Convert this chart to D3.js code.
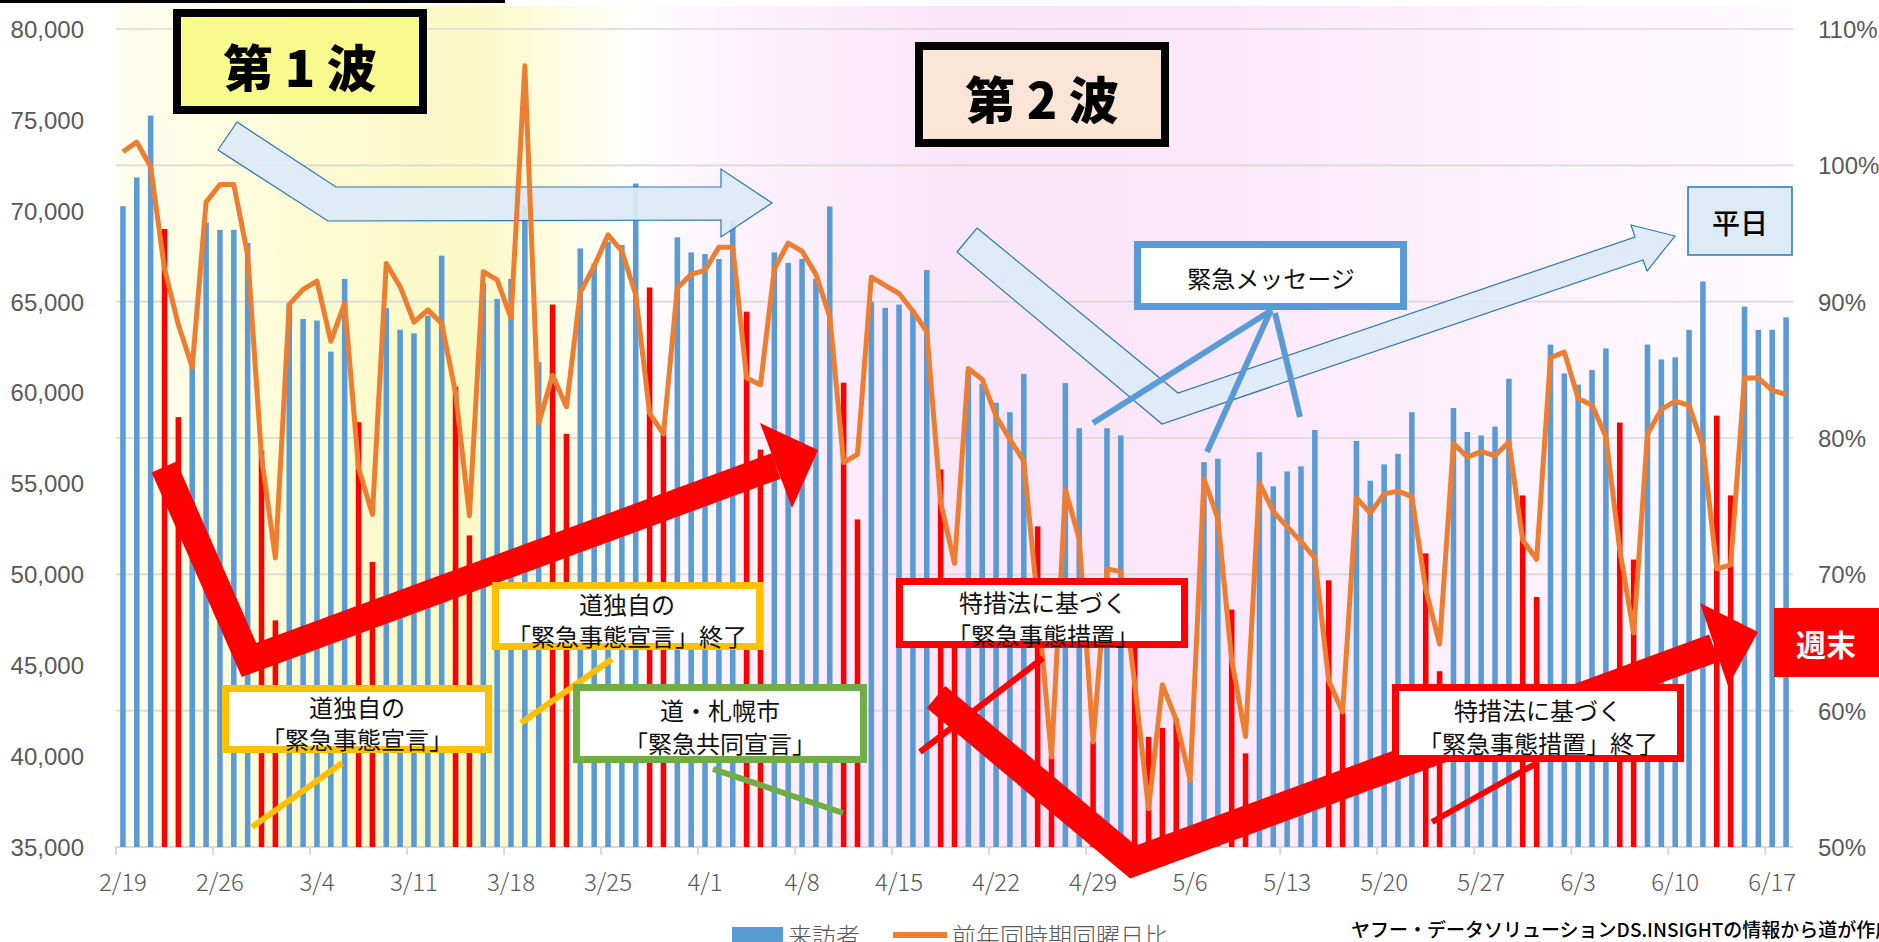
<!DOCTYPE html>
<html>
<head>
<meta charset="utf-8">
<script src="https://cdn.jsdelivr.net/npm/d3@7/dist/d3.min.js"></script>
<style>
    body { margin: 0; background: #fff; }
    svg { display: block; font-family: "Noto Sans CJK JP", "Noto Sans", sans-serif; }
</style>
</head>
<body>
<div id="chart"></div>
<script>
const firstDay = new Date(2020, 1, 19);
const lastDay = new Date(2020, 5, 19);
const holidays = ["4/29", "5/4", "5/5"];

// 来訪者 (2/19 - 6/18)
const visitors = [
    70250, 71830, 75240, 69000, 58650, 61500, 69350, 68950, 68950, 68230,
    56800, 47470, 64900, 64050, 63960, 62250, 66250, 58370, 50680, 64650,
    63450, 63260, 64230, 67530, 60330, 52140, 66000, 65150, 66250, 70300,
    61670, 64840, 57730, 67930, 67100, 68300, 68120, 71500, 65780, 58000,
    68540, 67710, 67620, 67350, 69500, 64450, 56860, 67710, 67130, 67350,
    66250, 70240, 60540, 53020, 65000, 64660, 64840, 64550, 66740, 55770,
    48500, 61200, 60480, 59440, 58920, 61030, 52640, 40000, 60520, 58040,
    40800, 58040, 57640, 48000, 41060, 41550, 42050, 38700, 56170, 56360,
    48060, 40150, 56720, 54840, 55660, 55940, 57940, 49670, 42400, 57340,
    55150, 56050, 56630, 58920, 51150, 44670, 59150, 57830, 57640, 58130,
    60760, 54340, 48750, 62640, 61050, 60440, 61240, 62430, 58350, 50810,
    62640, 61820, 61940, 63450, 66110, 58730, 54340, 64730, 63450, 63450,
    64140
];

// 前年同時期同曜日比 (%)
const ratio = [
    101.0, 101.7, 99.9, 92.4, 88.3, 85.2, 97.3, 98.6, 98.6, 93.4,
    78.6, 71.2, 89.8, 90.9, 91.5, 87.1, 89.9, 77.8, 74.4, 92.8,
    91.1, 88.5, 89.4, 88.4, 83.3, 74.3, 92.2, 91.6, 88.8, 107.3,
    81.1, 84.6, 82.3, 90.7, 92.6, 94.9, 93.7, 90.5, 81.8, 80.3,
    91.0, 92.0, 92.3, 94.0, 94.0, 84.4, 83.9, 92.4, 94.3, 93.7,
    92.0, 88.9, 78.2, 78.8, 91.8, 91.2, 90.6, 89.3, 87.8, 75.3,
    70.8, 85.1, 84.3, 81.6, 79.9, 78.3, 67.9, 56.6, 76.2, 72.6,
    57.7, 70.4, 70.2, 62.0, 52.8, 61.9, 59.3, 54.9, 77.0, 74.1,
    63.7, 58.1, 76.7, 74.6, 73.5, 72.4, 71.2, 62.2, 59.9, 75.6,
    74.5, 75.9, 76.1, 75.7, 68.9, 64.9, 79.6, 78.6, 79.0, 78.7,
    79.7, 72.5, 71.1, 85.9, 86.3, 82.9, 82.4, 80.1, 71.8, 65.7,
    80.3, 82.1, 82.7, 82.4, 79.4, 70.4, 70.7, 84.4, 84.4, 83.5,
    83.2
];

const leftTicks = [35000, 40000, 45000, 50000, 55000, 60000, 65000, 70000, 75000, 80000];
const rightTicks = [50, 60, 70, 80, 90, 100, 110];
const seriesNames = ["来訪者", "前年同時期同曜日比"];
const sourceNote = "ヤフー・データソリューションDS.INSIGHTの情報から道が作成";

const notes = [
    {x: 222, y: 685, w: 270, h: 68, color: "#FFC000", lines: ["道独自の", "「緊急事態宣言」"], ty: [706, 738], tx: 357,
        leader: [[342, 763], [252, 827]]},
    {x: 492, y: 582, w: 271, h: 68, color: "#FFC000", lines: ["道独自の", "「緊急事態宣言」終了"], ty: [603, 635], tx: 627,
        leader: [[612, 659], [521, 723]]},
    {x: 573, y: 684, w: 294, h: 79, color: "#70AD47", lines: ["道・札幌市", "「緊急共同宣言」"], ty: [709, 742], tx: 720,
        leader: [[713, 769], [843, 813]]},
    {x: 896, y: 578, w: 292, h: 70, color: "#FF0000", lines: ["特措法に基づく", "「緊急事態措置」"], ty: [601, 634], tx: 1043,
        leader: [[1043, 658], [920, 752]]},
    {x: 1392, y: 684, w: 292, h: 78, color: "#FF0000", lines: ["特措法に基づく", "「緊急事態措置」終了"], ty: [709, 742], tx: 1538,
        leader: [[1537, 763], [1432, 822]]},
    {x: 1134, y: 241, w: 273, h: 69, color: "#5B9BD5", lines: ["緊急メッセージ"], ty: [277], tx: 1271,
        leader: null}
];

class VisitorChart {
    constructor({selector, width = 1879, height = 942}) {
        this.selector = selector;
        this.width = width;
        this.height = height;
        this.left = 116;
        this.right = 1793;
        this.top = 29;
        this.bottom = 847;
        this.blue = "#5B9BD5";
        this.red = "#FF0000";
        this.orange = "#ED7D31";
        this.axisColor = "#595959";
        let fmt = d3.timeFormat("%-m/%-d");
        this.days = d3.timeDay.range(firstDay, lastDay).map(d => ({
            label: fmt(d),
            weekend: d.getDay() === 0 || d.getDay() === 6 || holidays.includes(fmt(d))
        }));
        this.days.forEach((d, i) => {
            d.visitors = visitors[i];
            d.ratio = ratio[i];
        });
    }
    drawBackground() {
        let grad = this.svg.append("defs")
            .append("linearGradient")
            .attr("id", "bg")
            .attr("x1", 0).attr("x2", 1).attr("y1", 0).attr("y2", 0);
        let stops = [
            [0, "#fffef0"], [0.11, "#fdfbd4"], [0.21, "#fbf9c4"], [0.27, "#fdfce6"],
            [0.31, "#ffffff"], [0.36, "#fdf3fc"], [0.5, "#fbe5f9"], [0.65, "#fce7fa"],
            [0.8, "#fdf0fc"], [1, "#fffbff"]
        ];
        grad.selectAll("stop")
            .data(stops)
            .join("stop")
            .attr("offset", d => d[0])
            .attr("stop-color", d => d[1]);
        this.svg.append("rect")
            .attr("x", this.left)
            .attr("y", 6)
            .attr("width", this.right - this.left)
            .attr("height", this.bottom - 6)
            .attr("fill", "url(#bg)");
        this.svg.append("rect")
            .attr("x", 0).attr("y", 0)
            .attr("width", 505).attr("height", 3)
            .attr("fill", "#000");
    }
    drawAxes() {
        let self = this;
        this.svg.append("g")
            .attr("class", "grid")
            .selectAll("line")
            .data(rightTicks)
            .join("line")
            .attr("x1", this.left)
            .attr("x2", this.right)
            .attr("y1", d => self.yRight(d))
            .attr("y2", d => self.yRight(d))
            .attr("stroke", "#d9d9d9")
            .attr("stroke-width", 1.6);

        let leftAxis = this.svg.append("g")
            .attr("transform", `translate(${this.left - 32},0)`)
            .call(d3.axisLeft(this.yLeft).tickValues(leftTicks).tickFormat(d3.format(",")).tickSize(0));
        let rightAxis = this.svg.append("g")
            .attr("transform", `translate(${this.right + 25},0)`)
            .call(d3.axisRight(this.yRight).tickValues(rightTicks).tickFormat(d => d + "%").tickSize(0));
        [leftAxis, rightAxis].forEach(g => {
            g.select(".domain").remove();
            g.selectAll("text")
                .attr("fill", self.axisColor)
                .style("font-size", "24px")
                .style("font-weight", 300)
                .attr("x", null)
                .attr("dy", "0.35em");
        });

        let weekly = this.days.filter((d, i) => i % 7 === 0);
        let xAxis = this.svg.append("g").attr("class", "x-axis");
        xAxis.append("line")
            .attr("x1", this.left)
            .attr("x2", this.right)
            .attr("y1", this.bottom)
            .attr("y2", this.bottom)
            .attr("stroke", "#d9d9d9")
            .attr("stroke-width", 2);
        xAxis.selectAll("line.tick")
            .data(weekly)
            .join("line")
            .attr("class", "tick")
            .attr("x1", d => self.cx(d.label) - self.x.step() / 2)
            .attr("x2", d => self.cx(d.label) - self.x.step() / 2)
            .attr("y1", this.bottom)
            .attr("y2", this.bottom + 8)
            .attr("stroke", "#d9d9d9")
            .attr("stroke-width", 2);
        xAxis.selectAll("text")
            .data(weekly)
            .join("text")
            .attr("x", d => self.cx(d.label))
            .attr("y", 880)
            .style("text-anchor", "middle")
            .style("dominant-baseline", "central")
            .style("font-size", "24px")
            .style("font-weight", 300)
            .attr("fill", this.axisColor)
            .text(d => d.label);
    }
    drawBars() {
        let self = this;
        this.svg.append("g")
            .attr("class", "bars")
            .selectAll("rect")
            .data(this.days)
            .join("rect")
            .attr("x", d => self.x(d.label))
            .attr("width", this.x.bandwidth())
            .attr("y", d => self.yLeft(d.visitors))
            .attr("height", d => self.bottom - self.yLeft(d.visitors))
            .attr("fill", d => d.weekend ? self.red : self.blue);
    }
    drawLine() {
        let self = this;
        let line = d3.line()
            .x(d => self.cx(d.label))
            .y(d => self.yRight(d.ratio));
        this.svg.append("path")
            .datum(this.days)
            .attr("fill", "none")
            .attr("stroke", this.orange)
            .attr("stroke-width", 5)
            .attr("stroke-linejoin", "round")
            .attr("d", line);
    }
    drawPaleArrows() {
        let arrows = [
            [[237, 122], [336, 187], [721, 187], [721, 169], [772, 203], [721, 237], [721, 220], [328, 221], [218, 150]],
            [[977, 228], [1178, 393], [1635, 237], [1631, 225], [1675, 236], [1647, 271], [1643, 260], [1162, 424], [957, 252]]
        ];
        this.svg.append("g")
            .selectAll("polygon")
            .data(arrows)
            .join("polygon")
            .attr("points", d => d.map(p => p.join(",")).join(" "))
            .attr("fill", "#DDEBF7")
            .attr("fill-opacity", 0.93)
            .attr("stroke", "#2E75B6")
            .attr("stroke-width", 1.2);
    }
    drawRedArrows() {
        let arrows = [
            {shaft: [[164, 467], [249, 660], [776, 466]], head: [[760, 423], [818, 450], [792, 508]], w: 27},
            {shaft: [[936, 697], [1133, 862], [1714, 648]], head: [[1700, 603], [1758, 632], [1728, 686]], w: 29}
        ];
        let g = this.svg.append("g").attr("class", "red-arrows");
        arrows.forEach(a => {
            g.append("path")
                .attr("d", d3.line()(a.shaft))
                .attr("fill", "none")
                .attr("stroke", "#FF0000")
                .attr("stroke-width", a.w)
                .attr("stroke-linejoin", "miter");
            g.append("polygon")
                .attr("points", a.head.map(p => p.join(",")).join(" "))
                .attr("fill", "#FF0000");
        });
    }
    drawNotes() {
        let g = this.svg.append("g").attr("class", "notes");
        // 緊急メッセージ leaders
        [[[1272, 310], [1093, 423]], [[1270, 312], [1207, 452]], [[1275, 313], [1300, 417]]].forEach(l => {
            g.append("path")
                .attr("d", d3.line()(l))
                .attr("stroke", this.blue)
                .attr("stroke-width", 6);
        });
        notes.forEach(n => {
            if (n.leader) {
                g.append("path")
                    .attr("d", d3.line()(n.leader))
                    .attr("stroke", n.color)
                    .attr("stroke-width", 6);
            }
            g.append("rect")
                .attr("x", n.x + 3.5)
                .attr("y", n.y + 3.5)
                .attr("width", n.w - 7)
                .attr("height", n.h - 7)
                .attr("fill", "#fff")
                .attr("stroke", n.color)
                .attr("stroke-width", 7);
            n.lines.forEach((t, i) => {
                g.append("text")
                    .attr("x", n.tx)
                    .attr("y", n.ty[i])
                    .style("text-anchor", "middle")
                    .style("dominant-baseline", "central")
                    .style("font-size", "24px")
                    .attr("fill", "#111")
                    .text(t);
            });
        });

        let waves = [
            {x: 173, y: 9, w: 254, h: 105, fill: "#F8FA8E", text: "第 1 波", ty: 65},
            {x: 915, y: 42, w: 254, h: 105, fill: "#FBE5D6", text: "第 2 波", ty: 97}
        ];
        waves.forEach(w => {
            g.append("rect")
                .attr("x", w.x + 4)
                .attr("y", w.y + 4)
                .attr("width", w.w - 8)
                .attr("height", w.h - 8)
                .attr("fill", w.fill)
                .attr("stroke", "#000")
                .attr("stroke-width", 8);
            g.append("text")
                .attr("x", w.x + w.w / 2)
                .attr("y", w.ty)
                .style("text-anchor", "middle")
                .style("dominant-baseline", "central")
                .style("font-size", "50px")
                .style("font-weight", 900)
                .attr("fill", "#000")
                .text(w.text);
        });

        g.append("rect")
            .attr("x", 1688).attr("y", 187)
            .attr("width", 104).attr("height", 68)
            .attr("fill", "#DDEBF7")
            .attr("stroke", "#2E75B6")
            .attr("stroke-width", 1.5);
        g.append("text")
            .attr("x", 1740).attr("y", 222)
            .style("text-anchor", "middle")
            .style("dominant-baseline", "central")
            .style("font-size", "28px")
            .style("font-weight", 500)
            .attr("fill", "#000")
            .text("平日");

        g.append("rect")
            .attr("x", 1774).attr("y", 608)
            .attr("width", 105).attr("height", 69)
            .attr("fill", "#FF0000");
        g.append("text")
            .attr("x", 1826).attr("y", 643)
            .style("text-anchor", "middle")
            .style("dominant-baseline", "central")
            .style("font-size", "30px")
            .style("font-weight", 700)
            .attr("fill", "#fff")
            .text("週末");
    }
    drawLegend() {
        let g = this.svg.append("g").attr("class", "legend");
        g.append("rect")
            .attr("x", 732).attr("y", 927)
            .attr("width", 51).attr("height", 20)
            .attr("fill", this.blue);
        g.append("text")
            .attr("x", 788).attr("y", 934)
            .style("dominant-baseline", "central")
            .style("font-size", "24px")
            .style("font-weight", 300)
            .attr("fill", this.axisColor)
            .text(seriesNames[0]);
        g.append("line")
            .attr("x1", 893).attr("x2", 947)
            .attr("y1", 935).attr("y2", 935)
            .attr("stroke", this.orange)
            .attr("stroke-width", 6);
        g.append("text")
            .attr("x", 952).attr("y", 934)
            .style("dominant-baseline", "central")
            .style("font-size", "24px")
            .style("font-weight", 300)
            .attr("fill", this.axisColor)
            .text(seriesNames[1]);
        g.append("text")
            .attr("x", 1351).attr("y", 928)
            .style("dominant-baseline", "central")
            .style("font-size", "19px")
            .style("font-weight", 500)
            .attr("fill", "#000")
            .text(sourceNote);
    }
    draw() {
        this.svg = d3.select(this.selector)
            .append("svg")
            .attr("width", this.width)
            .attr("height", this.height);
        this.x = d3.scaleBand()
            .domain(this.days.map(d => d.label))
            .range([this.left, this.right])
            .paddingInner(0.6)
            .paddingOuter(0.3);
        this.cx = label => this.x(label) + this.x.bandwidth() / 2;
        this.yLeft = d3.scaleLinear().domain([35000, 80000]).range([this.bottom, this.top]);
        this.yRight = d3.scaleLinear().domain([50, 110]).range([this.bottom, this.top]);

        this.drawBackground();
        this.drawAxes();
        this.drawBars();
        this.drawPaleArrows();
        this.drawLine();
        this.drawRedArrows();
        this.drawNotes();
        this.drawLegend();
    }
}

new VisitorChart({selector: "#chart"}).draw();
</script>
</body>
</html>
